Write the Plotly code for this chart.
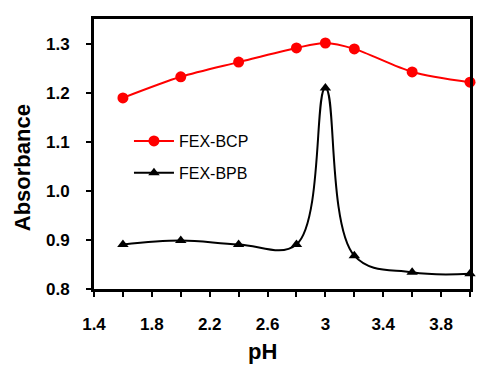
import plotly.graph_objects as go

ph = [1.6, 2.0, 2.4, 2.8, 3.0, 3.2, 3.6, 4.0]
bcp = [1.190, 1.233, 1.263, 1.292, 1.302, 1.290, 1.243, 1.222]
bpb = [0.891, 0.899, 0.891, 0.891, 1.210, 0.868, 0.834, 0.831]

x_tickvals = [1.4, 1.6, 1.8, 2.0, 2.2, 2.4, 2.6, 2.8, 3.0, 3.2, 3.4, 3.6, 3.8, 4.0]
x_ticktext = ["1.4", "", "1.8", "", "2.2", "", "2.6", "", "3", "", "3.4", "", "3.8", ""]
y_tickvals = [0.8, 0.9, 1.0, 1.1, 1.2, 1.3]

FONT = "Liberation Sans, Arial, sans-serif"

fig = go.Figure()
fig.add_trace(go.Scatter(
    x=ph, y=bcp, name="FEX-BCP", mode="lines+markers", showlegend=True,
    line=dict(color="#ff0000", width=2, shape="spline", smoothing=0.8),
    marker=dict(symbol="circle", size=11, color="#ff0000"),
    cliponaxis=False, legend="legend"))
fig.add_trace(go.Scatter(
    x=ph, y=bpb, name="FEX-BPB", mode="lines+markers", showlegend=True,
    line=dict(color="#000000", width=2, shape="spline", smoothing=1.1),
    marker=dict(symbol="triangle-up", size=10, color="#000000"),
    cliponaxis=False, legend="legend2"))

legend_common = dict(font=dict(family=FONT, size=16, color="black"),
                     bgcolor="rgba(0,0,0,0)", xanchor="left", yanchor="middle",
                     itemwidth=40, visible=True)
fig.update_layout(
    width=492, height=366,
    margin=dict(l=86, r=30, t=11, b=85, autoexpand=False),
    plot_bgcolor="white", paper_bgcolor="white",
    font=dict(family=FONT, color="black"),
    showlegend=True,
    legend=dict(x=0.093, y=0.548, **legend_common),
    legend2=dict(x=0.093, y=0.430, **legend_common),
    xaxis=dict(range=[1.4, 4.0], tickmode="array", tickvals=x_tickvals, ticktext=x_ticktext,
               ticks="outside", ticklen=5, tickwidth=2, tickcolor="black",
               ticklabelstandoff=13,
               showline=True, linecolor="black", linewidth=3, mirror=True,
               showgrid=False, zeroline=False,
               tickfont=dict(family=FONT, size=17, color="black", weight="bold")),
    yaxis=dict(range=[0.8, 1.351], tickmode="array", tickvals=y_tickvals, tickformat=".1f",
               ticks="outside", ticklen=5, tickwidth=2, tickcolor="black",
               ticklabelstandoff=13,
               showline=True, linecolor="black", linewidth=3, mirror=True,
               showgrid=False, zeroline=False,
               tickfont=dict(family=FONT, size=17, color="black", weight="bold")),
    annotations=[
        dict(text="pH", xref="paper", yref="paper", x=0.449, y=-0.233,
             xanchor="center", yanchor="middle", showarrow=False,
             font=dict(family=FONT, size=22, color="black", weight="bold")),
        dict(text="Absorbance", xref="paper", yref="paper", x=-0.191, y=0.448,
             xanchor="center", yanchor="middle", showarrow=False, textangle=-90,
             font=dict(family=FONT, size=22, color="black", weight="bold")),
    ],
)

fig.write_html("out.html")
